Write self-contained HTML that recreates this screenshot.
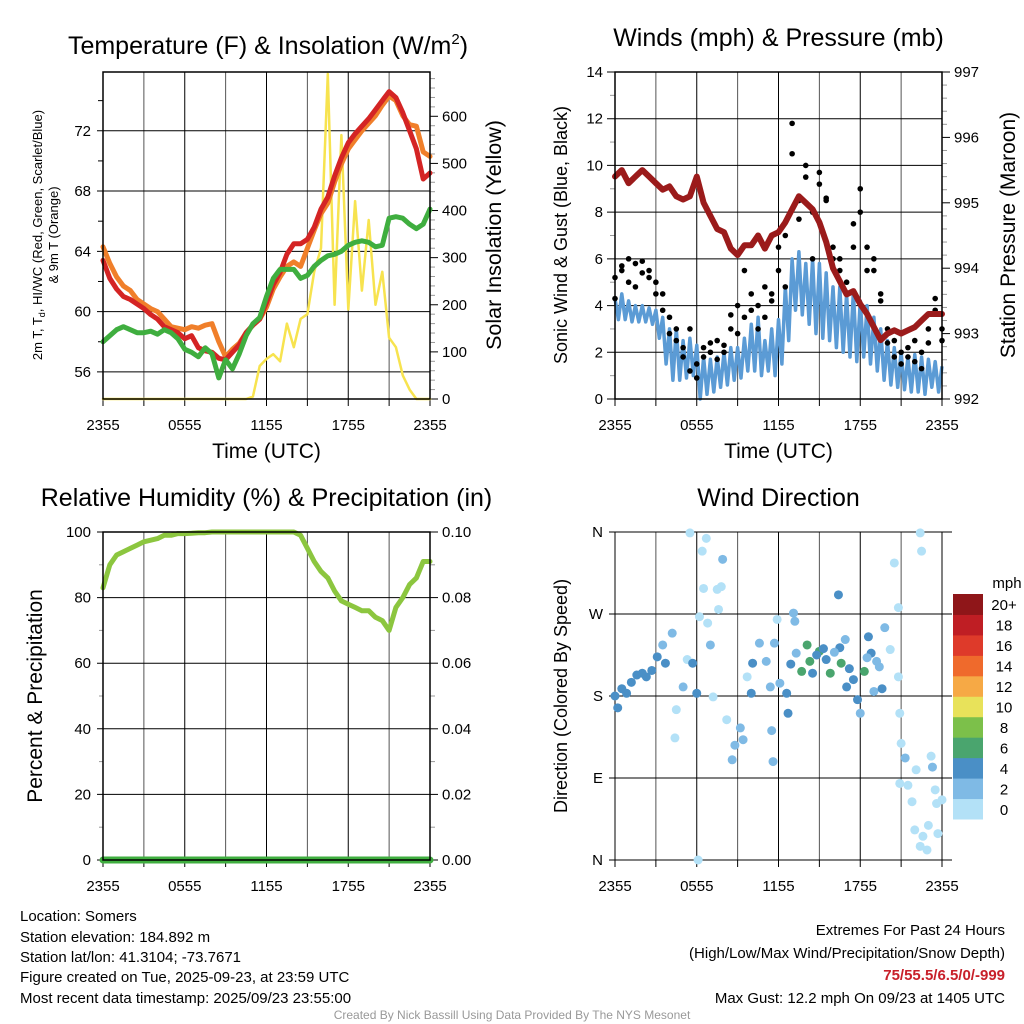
<!DOCTYPE html>
<html><head><meta charset="utf-8"><style>
html,body{margin:0;padding:0;background:#fff}
svg{display:block;font-family:"Liberation Sans",Arial,sans-serif}
</style></head><body>
<svg id="fig" width="1024" height="1024" viewBox="0 0 1024 1024">
<rect width="1024" height="1024" fill="#fff"/>
<g id="p1"></g>
<g id="p2"></g>
<g id="p3"></g>
<g id="p4"></g>
<g font-size="15" fill="#000">
<text x="20" y="921">Location: Somers</text>
<text x="20" y="942">Station elevation: 184.892 m</text>
<text x="20" y="962">Station lat/lon: 41.3104; -73.7671</text>
<text x="20" y="982">Figure created on Tue, 2025-09-23, at 23:59 UTC</text>
<text x="20" y="1003">Most recent data timestamp: 2025/09/23 23:55:00</text>
</g>
<g font-size="15" text-anchor="end">
<text x="1005" y="935">Extremes For Past 24 Hours</text>
<text x="1005" y="958">(High/Low/Max Wind/Precipitation/Snow Depth)</text>
<text x="1005" y="980" fill="#c8202a" font-weight="bold">75/55.5/6.5/0/-999</text>
<text x="1005" y="1003">Max Gust: 12.2 mph On 09/23 at 1405 UTC</text>
</g>
<text x="512" y="1019" font-size="12" fill="#999" text-anchor="middle">Created By Nick Bassill Using Data Provided By The NYS Mesonet</text>
</svg>
<script>
// ---- data (half-hourly, hours 0..24 from 2355 UTC) ----
const hours = [0,0.5,1,1.5,2,2.5,3,3.5,4,4.5,5,5.5,6,6.5,7,7.5,8,8.5,9,9.5,10,10.5,11,11.5,12,12.5,13,13.5,14,14.5,15,15.5,16,16.5,17,17.5,18,18.5,19,19.5,20,20.5,21,21.5,22,22.5,23,23.5,24];
const xTickLabels = ["2355","0555","1155","1755","2355"];
const tempRed = [63.4,62.2,61.5,61.0,60.8,60.5,60.2,59.8,59.5,59.0,58.8,58.6,58.2,58.4,57.6,57.4,57.3,56.9,56.8,57.3,57.8,58.6,59.1,59.5,60.6,61.8,62.6,63.8,64.5,64.5,64.8,65.6,66.8,67.6,69.0,70.2,71.2,71.8,72.3,72.8,73.4,74.0,74.6,74.2,73.2,72.0,70.8,68.8,69.2];
const temp9m = [64.3,63.2,62.3,61.7,61.4,60.8,60.5,60.2,60.0,59.5,59.0,58.9,58.8,59.0,58.9,59.1,59.2,58.0,57.0,57.5,57.9,58.6,59.1,59.5,60.3,61.5,62.3,63.0,63.3,63.0,64.2,65.4,66.5,67.2,68.6,69.8,70.8,71.4,72.0,72.5,73.0,73.7,74.3,74.0,73.0,72.4,72.3,70.6,70.3];
const dewGreen = [58.0,58.4,58.8,59.0,58.8,58.6,58.6,58.7,58.5,58.8,58.6,58.2,57.5,57.3,57.0,57.6,57.2,55.6,56.8,56.2,57.2,58.4,59.2,59.6,61.0,62.2,62.8,62.8,62.8,62.2,62.4,63.0,63.4,63.7,63.8,64.0,64.4,64.6,64.7,64.6,64.3,64.4,66.2,66.3,66.2,65.8,65.5,65.8,66.8];
const solar = [0,0,0,0,0,0,0,0,0,0,0,0,0,0,0,0,0,0,0,0,0,0,5,70,85,95,80,160,110,170,180,270,320,690,200,560,190,420,230,380,200,270,130,110,50,20,0,0,0];
const windHi = [4.3,4.5,4.2,4.0,4.0,3.9,3.8,3.5,3.0,3.0,2.5,2.6,2.3,1.8,1.7,1.8,2.0,2.2,2.2,2.6,3.2,3.5,2.5,3.0,3.4,4.8,6.0,6.3,5.8,6.0,5.8,5.4,4.8,4.8,4.5,4.6,4.2,4.0,3.5,3.0,2.5,2.2,2.0,1.8,1.9,1.8,1.7,1.6,1.4];
const windLo = [3.4,3.4,3.3,3.3,3.3,3.2,2.6,1.5,0.8,0.8,0.9,1.0,0.0,0.2,0.3,0.5,0.6,0.8,0.9,1.2,1.2,1.0,1.2,1.0,1.5,2.5,3.8,3.6,3.2,2.8,2.6,2.5,2.2,2.0,1.8,1.6,1.8,1.5,1.2,0.8,0.6,0.5,0.4,0.3,0.3,0.2,0.5,0.3,0.3];
const windGust = [5.2,5.5,5.0,5.8,5.4,5.5,5.0,4.5,3.5,3.0,2.2,3.0,1.5,2.2,2.0,2.5,2.0,3.0,2.8,3.5,4.5,4.0,3.5,4.2,5.5,7.0,11.8,8.5,9.5,8.0,9.2,8.6,6.5,5.5,5.0,7.5,9.0,6.5,5.5,4.5,3.0,2.5,2.0,1.8,2.5,2.0,3.0,3.8,3.0];
const windGust2 = [4.3,5.7,6.0,4.8,5.9,5.2,4.5,3.8,2.8,2.5,1.8,1.2,0.9,1.8,2.4,1.7,2.3,3.6,4.0,5.5,3.8,3.0,4.8,4.5,6.5,4.8,10.5,7.7,10.0,6.0,9.7,8.5,6.0,6.0,4.5,6.5,8.0,5.5,6.0,4.2,2.4,1.8,1.5,2.2,1.6,1.3,2.4,4.3,2.5];
const pressure = [995.4,995.5,995.3,995.4,995.5,995.4,995.3,995.2,995.25,995.1,995.05,995.1,995.4,995.0,994.8,994.6,994.55,994.3,994.2,994.35,994.35,994.5,994.3,994.5,994.55,994.7,994.9,995.1,995.0,994.9,994.7,994.4,994.0,993.8,993.6,993.65,993.45,993.3,993.1,992.9,993.0,993.05,993.0,993.05,993.1,993.2,993.3,993.3,993.3];
const rh = [83,90,93,94,95,96,97,97.5,98,99,99,99.5,99.5,99.6,99.8,99.8,100,100,100,100,100,100,100,100,100,100,100,100,100,99,95,91,88,86,82,79,78,77,76,76,74,73,70,77,80,84,86,91,91];
const precip = [0,0,0,0,0,0,0,0,0,0,0,0,0,0,0,0,0,0,0,0,0,0,0,0,0,0,0,0,0,0,0,0,0,0,0,0,0,0,0,0,0,0,0,0,0,0,0,0,0];
const dirHours = [0,0.2,0.85,1.6,2.3,3.1,3.7,4.2,3.5,5,4.5,4.4,5.3,5.7,6,5.5,6.1,6.4,6.7,6.5,6.2,6.8,7,7.2,7.5,7.8,7.9,7.6,8.2,8.6,8.8,9.2,9.4,9.7,10,10.1,10.6,11.1,11.4,11.5,11.6,11.9,11.7,12.1,12.6,12.7,13.1,13.2,13.3,13.7,14.1,14.3,14.5,15,15.5,15.8,16.4,16.5,16.6,16.9,17,17.5,17.8,18,18.3,18.6,18.8,19,19.4,19.6,19.8,20.2,20.5,20.8,20.8,20.9,21,21.3,20.9,21.5,21.8,22,22.1,22.4,22.5,22.4,22.6,22.9,23,23.2,23.3,23.5,23.6,23.7,24,1.2,2.0,2.7,0.5,12.9,14.8,15.3,16.1,17.2,18.5,19.2];
const dirDegs = [180,167,183,203,201,223,216,249,236,190,165,134,220,216,183,359,0,339,353,298,267,260,236,179,297,300,330,275,154,110,126,145,132,201,183,216,238,218,190,142,108,264,238,194,183,161,271,262,227,207,236,218,205,229,220,205,291,233,216,242,190,198,176,161,207,245,227,185,212,188,255,231,326,277,201,161,128,112,84,82,64,33,99,15,339,359,26,11,38,114,102,77,62,29,66,195,205,208,188,215,225,232,228,210,222,218];
const dirSpeeds = [4.5,4.5,4.5,4.5,4.5,4.5,4.5,2,3,3,1,1,1,4.5,4.5,1,1,1,1,1,1,1,3,1,1,1,3,1,1,3,3,3,3,1,4.5,4.5,3,3,3,3,3,1,3,3,4.5,4.5,3,3,3,6.5,6.5,6.5,4.5,6.5,4.5,6.5,4.5,4.5,6.5,3,4.5,4.5,4.5,3,6.5,4.5,4.5,3,3,4.5,3,1,1,1,1,1,1,3,1,1,1,1,1,1,1,1,1,1,1,1,3,1,1,1,1,4.5,4.5,4.5,4.5,4.5,4.5,4.5,3,4.5,3,3];
const colorbarLabels = ["0","2","4","6","8","10","12","14","16","18","20+"];
const colorbarColors = ["#b3e1f7","#7fbae5","#4a8fc6","#4aa56e","#7cc04a","#e8e25a","#f6a945","#ef6a2c","#de3a2a","#bf1e24","#8f1619"];

// ---- helpers ----
const NS="http://www.w3.org/2000/svg";
function mk(parent,tag,attrs){const e=document.createElementNS(NS,tag);for(const k in attrs)e.setAttribute(k,attrs[k]);parent.appendChild(e);return e;}
function txt(parent,x,y,s,size,anchor,extra){const e=mk(parent,"text",Object.assign({x:x,y:y,"font-size":size,"text-anchor":anchor||"middle"},extra||{}));e.textContent=s;return e;}
function scale(d0,d1,r0,r1){return v=>r0+(v-d0)*(r1-r0)/(d1-d0);}

function frame(g,L,R,T,B,title,titleY,xlabel){
  const xs=scale(0,24,L,R);
  for(let h=0;h<=24;h+=3){const x=xs(h);
    const ln=mk(g,"line",{x1:x,y1:T,x2:x,y2:B,stroke:(h%6===0)?"#000":"#555","stroke-width":1});
    
    
    const tk=mk(g,"line",{x1:x,y1:B,x2:x,y2:B+7,stroke:"#000","stroke-width":1});
    
    
  }
  xTickLabels.forEach((s,i)=>{const t=txt(g,xs(i*6),B+31,s,15);
    
    });
  if(title){const tt=txt(g,(L+R)/2,titleY,title,25);
    
    }
  if(xlabel){const xl=txt(g,(L+R)/2,B+59,xlabel,21);
    
    }
  return xs;
}
function hgrid(g,L,R,ys,vals,labels,extL){
  vals.forEach((v,i)=>{const y=ys(v);
    const ln=mk(g,"line",{x1:L-(extL||6),y1:y,x2:R,y2:y,stroke:"#000","stroke-width":1});
    
    
    const t=txt(g,L-12,y+5,labels[i],15,"end");
    
    
  });
}
function rightAxis(g,R,ys,vals,labels,minor){
  if(minor)minor.forEach(v=>{const y=ys(v);mk(g,"line",{x1:R,y1:y,x2:R+5,y2:y,stroke:"#999","stroke-width":1});});
  vals.forEach((v,i)=>{const y=ys(v);
    const tk=mk(g,"line",{x1:R,y1:y,x2:R+8,y2:y,stroke:"#000","stroke-width":1});
    
    
    const t=txt(g,R+12,y+5,labels[i],15,"start");
    
    
  });
}
function line(g,xs,ys,xv,yv,color,w,name){
  const d=xv.map((h,i)=>(i?"L":"M")+xs(h).toFixed(1)+","+ys(yv[i]).toFixed(1)).join("");
  const p=mk(g,"path",{d:d,fill:"none",stroke:color,"stroke-width":w,"stroke-linejoin":"round","stroke-linecap":"round"});
  
  
  return p;
}
function border(g,L,R,T,B){const r=mk(g,"rect",{x:L,y:T,width:R-L,height:B-T,fill:"none",stroke:"#000","stroke-width":1.5});
  
  }

// ---- panel 1: temperature ----
(function(){
  const g=document.getElementById("p1");const L=103,R=430,T=72,B=399;
  const xs=frame(g,L,R,T,B,null,0,"Time (UTC)");
  const tt=mk(g,"text",{x:268,y:54,"font-size":25,"text-anchor":"middle"});
  
  
  tt.innerHTML='Temperature (F) &amp; Insolation (W/m<tspan dy="-10" font-size="15">2</tspan><tspan dy="10">)</tspan>';
  const ys=scale(54.2,75.9,B,T);const ysr=scale(0,694,B,T);
  hgrid(g,L,R,ys,[56,60,64,68,72],["56","60","64","68","72"]);
  [58,62,66,70,74].forEach(v=>mk(g,"line",{x1:L-5,y1:ys(v),x2:L,y2:ys(v),stroke:"#000"}));
  rightAxis(g,R,ysr,[0,100,200,300,400,500,600],["0","100","200","300","400","500","600"],[20,40,60,80,120,140,160,180,220,240,260,280,320,340,360,380,420,440,460,480,520,540,560,580,620,640,660,680]);
  line(g,xs,ysr,hours,solar,"#f7e34f",2.5,"solar-insolation-line");
  line(g,xs,ys,hours,temp9m,"#f07f2a",5,"temp-9m-line");
  line(g,xs,ys,hours,tempRed,"#d42424",5,"temp-2m-line");
  line(g,xs,ys,hours,dewGreen,"#3fae3f",5,"dewpoint-line");
  border(g,L,R,T,B);
  const yt=mk(g,"text",{transform:"translate(42,235) rotate(-90)","font-size":13,"text-anchor":"middle"});
  
  
  yt.innerHTML='2m T, T<tspan dy="3" font-size="9">d</tspan><tspan dy="-3">, HI/WC (Red, Green, Scarlet/Blue)</tspan>';
  const yt2=txt(g,0,0,"& 9m T (Orange)",13,"middle",{transform:"translate(58,235) rotate(-90)"});
  
  
  const rt=txt(g,0,0,"Solar Insolation (Yellow)",21.5,"middle",{transform:"translate(501,235) rotate(-90)"});
  
  
})();

// ---- panel 2: winds ----
(function(){
  const g=document.getElementById("p2");const L=615,R=942,T=72,B=399;
  const xs=frame(g,L,R,T,B,"Winds (mph) & Pressure (mb)",46,"Time (UTC)");
  const ys=scale(0,14,B,T);const ysr=scale(992,997,B,T);
  hgrid(g,L,R,ys,[0,2,4,6,8,10,12,14],["0","2","4","6","8","10","12","14"],8);
  [1,3,5,7,9,11,13].forEach(v=>mk(g,"line",{x1:L-5,y1:ys(v),x2:L,y2:ys(v),stroke:"#999"}));
  const minor=[];for(let v=992.2;v<997;v+=0.2){if(Math.abs(v-Math.round(v))>0.05)minor.push(v);}
  rightAxis(g,R,ysr,[992,993,994,995,996,997],["992","993","994","995","996","997"],minor);
  let d="";
  hours.forEach((h,i)=>{
    d+=(i?"L":"M")+xs(h).toFixed(1)+","+ys(windHi[i]).toFixed(1);
    if(i<hours.length-1)d+="L"+xs(h+0.25).toFixed(1)+","+ys(windLo[i]).toFixed(1);
  });
  const wl=mk(g,"path",{d:d,fill:"none",stroke:"#5b9bd5","stroke-width":3.5,"stroke-linejoin":"round"});
  
  
  [windGust,windGust2].forEach(arr=>arr.forEach((v,i)=>{
    const c=mk(g,"circle",{cx:xs(hours[i]),cy:ys(v),r:2.8,fill:"#000"});
    
    
  }));
  line(g,xs,ysr,hours,pressure,"#9b1b1b",6,"pressure-line");
  border(g,L,R,T,B);
  const yt=txt(g,0,0,"Sonic Wind & Gust (Blue, Black)",18,"middle",{transform:"translate(567,235) rotate(-90)"});
  
  
  const rt=txt(g,0,0,"Station Pressure (Maroon)",21,"middle",{transform:"translate(1015,235) rotate(-90)"});
  
  
})();

// ---- panel 3: humidity ----
(function(){
  const g=document.getElementById("p3");const L=103,R=430,T=532,B=860;
  const xs=frame(g,L,R,T,B,"Relative Humidity (%) & Precipitation (in)",506,null);
  const ys=scale(0,100,B,T);const ysr=scale(0,0.1,B,T);
  hgrid(g,L,R,ys,[0,20,40,60,80,100],["0","20","40","60","80","100"]);
  [10,30,50,70,90].forEach(v=>mk(g,"line",{x1:L-4,y1:ys(v),x2:L,y2:ys(v),stroke:"#999"}));
  rightAxis(g,R,ysr,[0,0.02,0.04,0.06,0.08,0.1],["0.00","0.02","0.04","0.06","0.08","0.10"],[0.01,0.03,0.05,0.07,0.09]);
  line(g,xs,ys,hours,rh,"#8cc63f",5,"relative-humidity-line");
  line(g,xs,ysr,hours,precip,"#3fae3f",7,"precipitation-line");
  border(g,L,R,T,B);
  const yt=txt(g,0,0,"Percent & Precipitation",21,"middle",{transform:"translate(42,696) rotate(-90)"});
  
  
})();

// ---- panel 4: wind direction ----
(function(){
  const g=document.getElementById("p4");const L=615,R=942,T=532,B=860;
  const xs=frame(g,L,R,T,B,"Wind Direction",506,null);
  const ys=scale(0,360,B,T);
  hgrid(g,L,R+10,ys,[0,90,180,270,360],["N","E","S","W","N"]);
  function col(s){return colorbarColors[Math.min(10,Math.floor(s/2))];}
  dirHours.forEach((h,i)=>{
    const c=mk(g,"circle",{cx:xs(h),cy:ys(dirDegs[i]),r:4.5,fill:col(dirSpeeds[i])});
    
    
  });
  const yt=txt(g,0,0,"Direction (Colored By Speed)",18,"middle",{transform:"translate(567,696) rotate(-90)"});
  
  
  const cbT=594,cbB=819,h=(cbB-cbT)/11;
  colorbarColors.forEach((c,i)=>{
    const r=mk(g,"rect",{x:953,y:cbB-(i+1)*h,width:30,height:h+0.5,fill:c});
    
    
    const t=txt(g,1004,cbB-(i+0.5)*h+6,colorbarLabels[i],15,"middle");
    
    
  });
  const u=txt(g,1007,588,"mph",15,"middle");
  
  
})();
</script>
</body></html>
